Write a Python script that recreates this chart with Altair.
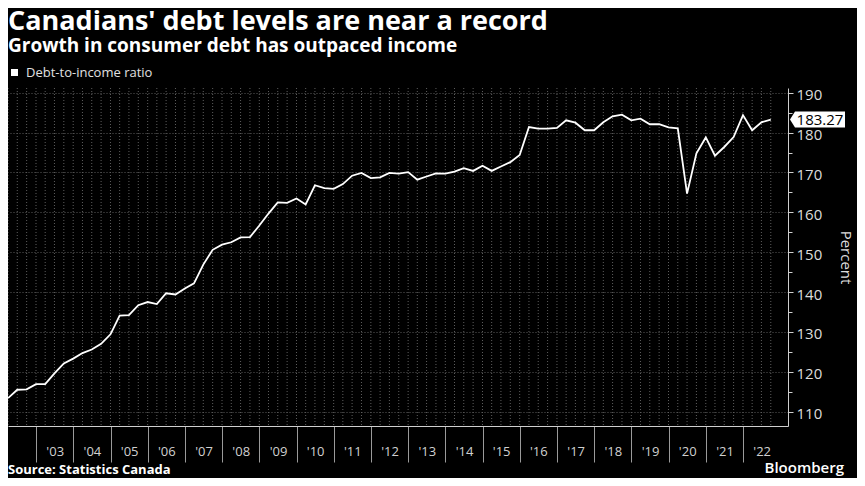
import altair as alt
import pandas as pd

title_text = "Canadians' debt levels are near a record"
subtitle_text = "Growth in consumer debt has outpaced income"
series_name = "Debt-to-income ratio"
source_text = "Source: Statistics Canada"
brand_text = "Bloomberg"
axis_title = "Percent"

first_quarter = "2002Q1"
ratio = [
    113.4, 115.5, 115.6, 116.9,   # 2002
    116.9, 119.6, 122.1, 123.3,   # 2003
    124.7, 125.6, 127.0, 129.4,   # 2004
    134.1, 134.2, 136.7, 137.5,   # 2005
    137.0, 139.7, 139.4, 140.9,   # 2006
    142.2, 146.9, 150.6, 151.9,   # 2007
    152.5, 153.7, 153.8, 156.7,   # 2008
    159.7, 162.5, 162.4, 163.5,   # 2009
    162.0, 166.8, 166.1, 165.9,   # 2010
    167.1, 169.2, 169.9, 168.6,   # 2011
    168.8, 169.9, 169.7, 170.1,   # 2012
    168.2, 169.0, 169.8, 169.7,   # 2013
    170.2, 171.1, 170.4, 171.7,   # 2014
    170.4, 171.5, 172.6, 174.4,   # 2015
    181.4, 181.0, 181.0, 181.2,   # 2016
    183.1, 182.5, 180.6, 180.6,   # 2017
    182.6, 184.1, 184.5, 183.1,   # 2018
    183.5, 182.1, 182.1, 181.3,   # 2019
    181.1, 164.7, 174.8, 178.8,   # 2020
    174.2, 176.4, 178.9, 184.4,   # 2021
    180.6, 182.6, 183.27,         # 2022
]
year_ticks = list(range(2003, 2023))
y_ticks = list(range(110, 191, 5))

quarters = pd.period_range(first_quarter, periods=len(ratio), freq="Q")
df = pd.DataFrame({
    "date": [q.end_time.strftime("%Y-%m-%d") for q in quarters],
    "ratio": ratio,
    "series": series_name,
})
last = df.iloc[[-1]]

FONT = "Open Sans"
W, H = 780, 338

x_enc = alt.X(
    "date:T",
    scale=alt.Scale(
        type="utc",
        domain=[alt.DateTime(year=2002, month=3, date=31, utc=True),
                alt.DateTime(year=2023, month=3, date=18, utc=True)],
    ),
    axis=alt.Axis(
        values=[alt.DateTime(year=y, month=1, date=1, utc=True) for y in year_ticks],
        labelExpr="\"'\" + utcFormat(datum.value, '%y')",
        grid=False,
        tickSize=36, tickColor="#9a9a9a", tickWidth=1,
        labelOffset=18.6, labelPadding=-11, labelBaseline="middle",
        labelFont=FONT, labelFontSize=13, labelColor="#d0d0d0",
        labelOverlap=False, labelBound=False, labelFlush=False,
        domainColor="#cfcfcf", domainWidth=1,
        title=None,
    ),
)

y_enc = alt.Y(
    "ratio:Q",
    scale=alt.Scale(domain=[106.4, 191.2], nice=False, zero=False),
    axis=alt.Axis(
        orient="right",
        values=y_ticks,
        labelExpr="datum.value % 10 === 0 ? datum.label : ''",
        grid=True, gridColor="#5a5a5a", gridDash=[1, 2], gridWidth=1,
        gridOpacity={"condition": {"test": "datum.value % 10 === 0", "value": 1}, "value": 0},
        tickSize={"condition": {"test": "datum.value % 10 === 0", "value": 5}, "value": 4},
        tickColor="#cfcfcf",
        domainColor="#cfcfcf",
        labelFont=FONT, labelFontSize=15, labelColor="#dcdcdc", labelPadding=3,
        labelOffset=2,
        title=axis_title, titleFont=FONT, titleFontSize=15, titleFontWeight="normal",
        titleColor="#dcdcdc", titlePadding=16,
    ),
)

grid_rules = alt.Chart(df).mark_rule(
    color="#5e5e5e", strokeDash=[1, 2], strokeWidth=1
).encode(x=x_enc)

line = alt.Chart(df).mark_line(strokeWidth=1.8).encode(
    x=x_enc,
    y=y_enc,
    color=alt.Color(
        "series:N",
        scale=alt.Scale(range=["#ffffff"]),
        legend=alt.Legend(
            title=None, orient="none", legendX=0, legendY=-22,
            symbolType="square", symbolSize=49,
            symbolFillColor="#ffffff", symbolStrokeColor="#ffffff", symbolStrokeWidth=0,
            labelFont=FONT, labelFontSize=13, labelColor="#e0e0e0", labelOffset=5,
        ),
    ),
)

tag = alt.Chart(last).mark_point(
    shape="M -3 0 L -2.5 -0.8 L 2.5 -0.8 L 2.5 0.8 L -2.5 0.8 Z",
    size=400, filled=True, color="#ffffff", opacity=1,
).encode(x=alt.value(812), y=y_enc)

tag_text = alt.Chart(last).mark_text(
    font=FONT, fontSize=15, color="#000000", align="center", baseline="middle"
).encode(x=alt.value(812), y=y_enc, text=alt.Text("ratio:Q", format=".2f"))


def label(text, y, size, weight="bold", x=0, align="left", color="#ffffff"):
    return alt.Chart(pd.DataFrame({"t": [text]})).mark_text(
        font=FONT, fontSize=size, fontWeight=weight, color=color,
        align=align, baseline="alphabetic",
    ).encode(x=alt.value(x), y=alt.value(y), text="t:N")


title = label(title_text, -58, 27)
subtitle = label(subtitle_text, -36, 19)
source = label(source_text, 386, 13)
brand = label(brand_text, 385, 15, weight=600, x=836, align="right")

chart = alt.layer(
    grid_rules, line, tag, tag_text, title, subtitle, source, brand
).properties(
    width=W, height=H,
    background="#000000",
    autosize=alt.AutoSizeParams(type="none"),
    padding={"left": 0, "top": 80, "right": 69, "bottom": 52},
).configure_view(stroke=None)

chart.save("out.html", embed_options={"renderer": "svg", "actions": False})
